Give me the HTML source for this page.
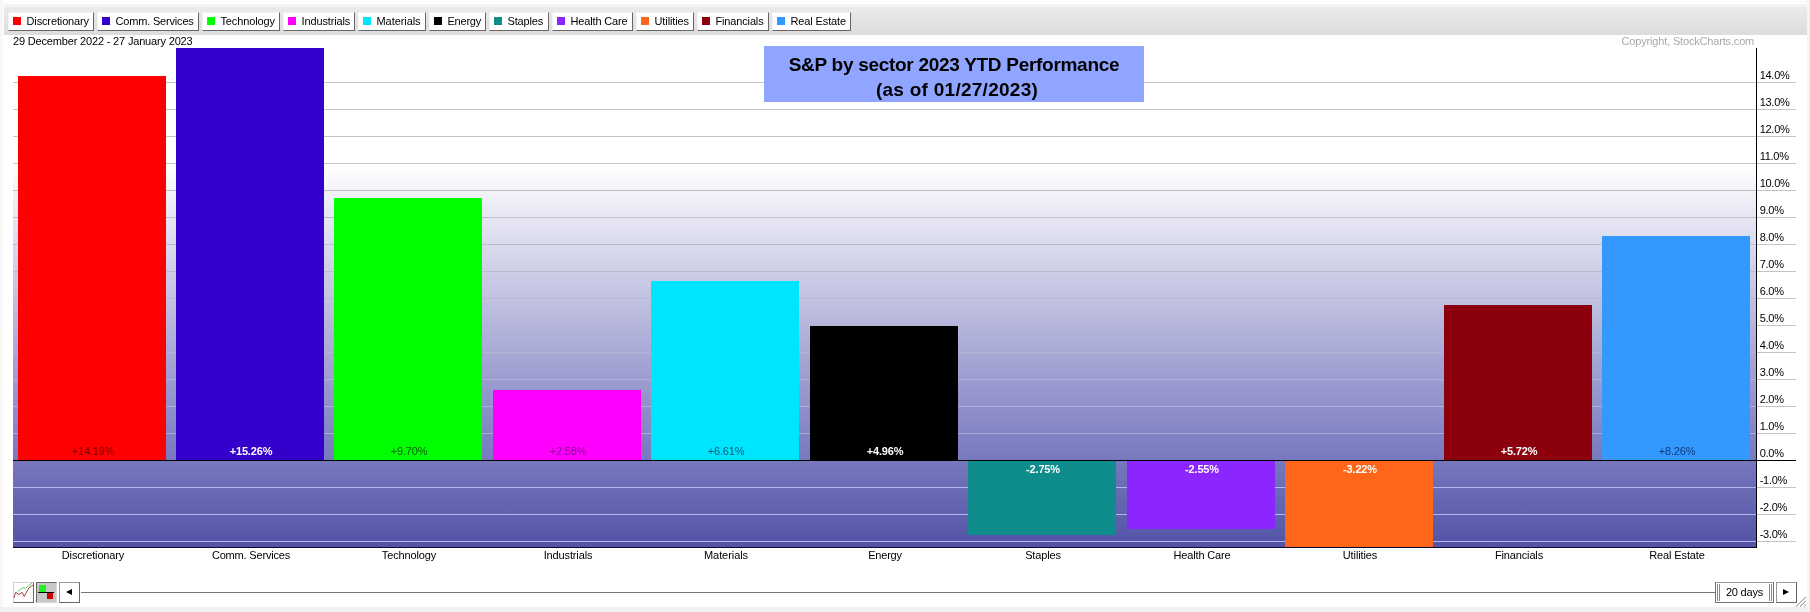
<!DOCTYPE html>
<html><head><meta charset="utf-8"><title>S&amp;P sector performance</title>
<style>
html,body{margin:0;padding:0;}
body{width:1810px;height:612px;position:relative;overflow:hidden;background:#fdfdfd;font-family:"Liberation Sans",sans-serif;font-size:11px;color:#000;letter-spacing:-0.17px;}
div,span{position:absolute;box-sizing:border-box;}
.tb{left:4px;top:4px;width:1803px;height:31px;background:linear-gradient(#f3f3f3 0px,#f3f3f3 3px,#ebebeb 3px,#dcdcdc 31px);}
.pane{left:3px;top:35px;width:1804px;height:572px;background:#fff;}
.btn{top:12px;height:19px;background:#fff;border-right:1px solid #666;border-bottom:1px solid #666;border-left:1px solid #f4f4f4;border-top:1px solid #f4f4f4;white-space:nowrap;}
.btn i{position:absolute;left:4px;top:4px;width:8px;height:8px;}
.btn b{position:absolute;left:17.5px;top:2px;font-weight:normal;line-height:13px;}
.plot{left:13px;top:48px;width:1744px;height:499px;background:linear-gradient(#ffffff 0px,#ffffff 116px,#7778be 412px,#5253a6 499px);}
.g{left:13px;width:1784px;height:1px;background:rgba(170,170,170,0.75);}
.gn{left:13px;width:1744px;height:1px;background:rgba(235,235,250,0.8);}
.gt{left:1757px;width:39px;height:1px;background:#c4c4c4;}
.bar{width:148px;}
.yl{left:1759.7px;width:40px;line-height:12px;letter-spacing:-0.28px;}
.xl{top:549px;width:158px;text-align:center;line-height:13px;}
.vl{width:158px;text-align:center;line-height:12px;font-size:11px;}
</style></head><body>
<div id="w" style="left:0;top:0;width:1810px;height:612px;will-change:transform">
<div style="left:0;top:0;width:3px;height:612px;background:#f7f7f7"></div>
<div style="left:0;top:607px;width:1810px;height:5px;background:#f1f1f1"></div>
<div style="left:1807px;top:0;width:3px;height:612px;background:#f4f4f4"></div>
<div class="pane"></div>
<div class="tb"></div>

<div class="btn" style="left:8px;width:86px"><i style="background:#ff0000"></i><b style="letter-spacing:-0.130px">Discretionary</b></div>
<div class="btn" style="left:97px;width:102px"><i style="background:#3300cc"></i><b style="letter-spacing:-0.178px">Comm. Services</b></div>
<div class="btn" style="left:202px;width:78px"><i style="background:#00ff00"></i><b style="letter-spacing:-0.136px">Technology</b></div>
<div class="btn" style="left:283px;width:72px"><i style="background:#ff00ff"></i><b style="letter-spacing:-0.131px">Industrials</b></div>
<div class="btn" style="left:358px;width:68px"><i style="background:#00e5ff"></i><b style="letter-spacing:-0.069px">Materials</b></div>
<div class="btn" style="left:429px;width:57px"><i style="background:#000000"></i><b style="letter-spacing:-0.227px">Energy</b></div>
<div class="btn" style="left:489px;width:60px"><i style="background:#0f8c8c"></i><b style="letter-spacing:-0.143px">Staples</b></div>
<div class="btn" style="left:552px;width:81px"><i style="background:#8c26ff"></i><b style="letter-spacing:-0.155px">Health Care</b></div>
<div class="btn" style="left:636px;width:58px"><i style="background:#ff6619"></i><b style="letter-spacing:-0.106px">Utilities</b></div>
<div class="btn" style="left:697px;width:72px"><i style="background:#8c000d"></i><b style="letter-spacing:-0.153px">Financials</b></div>
<div class="btn" style="left:772px;width:79px"><i style="background:#3399ff"></i><b style="letter-spacing:-0.125px">Real Estate</b></div>
<div style="left:13px;top:35px;line-height:13px;white-space:nowrap">29 December 2022 - 27 January 2023</div>
<div style="left:1621.6px;top:35px;line-height:13px;white-space:nowrap;color:#a9a9a9">Copyright, StockCharts.com</div>
<div class="plot"></div>
<div class="gn" style="top:82px;background:rgb(196,196,196)"></div><div class="gt" style="top:82px"></div>
<div class="gn" style="top:109px;background:rgb(196,196,196)"></div><div class="gt" style="top:109px"></div>
<div class="gn" style="top:136px;background:rgb(196,196,196)"></div><div class="gt" style="top:136px"></div>
<div class="gn" style="top:163px;background:rgb(196,196,196)"></div><div class="gt" style="top:163px"></div>
<div class="gn" style="top:190px;background:rgb(194,194,198)"></div><div class="gt" style="top:190px"></div>
<div class="gn" style="top:217px;background:rgb(191,191,200)"></div><div class="gt" style="top:217px"></div>
<div class="gn" style="top:244px;background:rgb(189,189,202)"></div><div class="gt" style="top:244px"></div>
<div class="gn" style="top:271px;background:rgb(186,186,204)"></div><div class="gt" style="top:271px"></div>
<div class="gn" style="top:298px;background:rgb(184,184,206)"></div><div class="gt" style="top:298px"></div>
<div class="gn" style="top:325px;background:rgb(182,182,208)"></div><div class="gt" style="top:325px"></div>
<div class="gn" style="top:352px;background:rgb(179,179,210)"></div><div class="gt" style="top:352px"></div>
<div class="gn" style="top:379px;background:rgb(177,177,212)"></div><div class="gt" style="top:379px"></div>
<div class="gn" style="top:406px;background:rgb(174,174,214)"></div><div class="gt" style="top:406px"></div>
<div class="gn" style="top:433px;background:rgb(172,172,216)"></div><div class="gt" style="top:433px"></div>
<div class="gn" style="top:487px;background:#b6b8f0"></div><div class="gt" style="top:487px"></div>
<div class="gn" style="top:514px;background:#b6b8f0"></div><div class="gt" style="top:514px"></div>
<div class="gn" style="top:541px;background:#b6b8f0"></div><div class="gt" style="top:541px"></div>
<div class="bar" style="left:18px;top:76px;height:384px;background:#ff0000"></div>
<div class="vl" style="left:14px;top:445px;color:#780000;font-weight:normal">+14.19%</div>
<div class="xl" style="left:14px;letter-spacing:-0.130px">Discretionary</div>
<div class="bar" style="left:176px;top:48px;height:412px;background:#3300cc"></div>
<div class="vl" style="left:172px;top:445px;color:#ffffff;font-weight:bold">+15.26%</div>
<div class="xl" style="left:172px;letter-spacing:-0.178px">Comm. Services</div>
<div class="bar" style="left:334px;top:198px;height:262px;background:#00ff00"></div>
<div class="vl" style="left:330px;top:445px;color:#0a5a0a;font-weight:normal">+9.70%</div>
<div class="xl" style="left:330px;letter-spacing:-0.136px">Technology</div>
<div class="bar" style="left:493px;top:390px;height:70px;background:#ff00ff"></div>
<div class="vl" style="left:489px;top:445px;color:#8a0a8a;font-weight:normal">+2.58%</div>
<div class="xl" style="left:489px;letter-spacing:-0.131px">Industrials</div>
<div class="bar" style="left:651px;top:281px;height:179px;background:#00e5ff"></div>
<div class="vl" style="left:647px;top:445px;color:#0a5a6a;font-weight:normal">+6.61%</div>
<div class="xl" style="left:647px;letter-spacing:-0.069px">Materials</div>
<div class="bar" style="left:810px;top:326px;height:134px;background:#000000"></div>
<div class="vl" style="left:806px;top:445px;color:#ffffff;font-weight:bold">+4.96%</div>
<div class="xl" style="left:806px;letter-spacing:-0.227px">Energy</div>
<div class="bar" style="left:968px;top:461px;height:74px;background:#0f8c8c"></div>
<div class="vl" style="left:964px;top:463px;color:#ffffff;font-weight:bold">-2.75%</div>
<div class="xl" style="left:964px;letter-spacing:-0.143px">Staples</div>
<div class="bar" style="left:1127px;top:461px;height:68px;background:#8c26ff"></div>
<div class="vl" style="left:1123px;top:463px;color:#ffffff;font-weight:bold">-2.55%</div>
<div class="xl" style="left:1123px;letter-spacing:-0.155px">Health Care</div>
<div class="bar" style="left:1285px;top:461px;height:86px;background:#ff6619"></div>
<div class="vl" style="left:1281px;top:463px;color:#ffffff;font-weight:bold">-3.22%</div>
<div class="xl" style="left:1281px;letter-spacing:-0.106px">Utilities</div>
<div class="bar" style="left:1444px;top:305px;height:155px;background:#8c000d"></div>
<div class="vl" style="left:1440px;top:445px;color:#ffffff;font-weight:bold">+5.72%</div>
<div class="xl" style="left:1440px;letter-spacing:-0.153px">Financials</div>
<div class="bar" style="left:1602px;top:236px;height:224px;background:#3399ff"></div>
<div class="vl" style="left:1598px;top:445px;color:#0a3a7a;font-weight:normal">+8.26%</div>
<div class="xl" style="left:1598px;letter-spacing:-0.125px">Real Estate</div>
<div style="left:13px;top:460px;width:1783px;height:1px;background:#000"></div>
<div style="left:13px;top:547px;width:1744px;height:1px;background:#0a0a30"></div>
<div style="left:1756px;top:48px;width:1px;height:500px;background:#000"></div>
<div class="yl" style="top:69px">14.0%</div>
<div class="yl" style="top:96px">13.0%</div>
<div class="yl" style="top:123px">12.0%</div>
<div class="yl" style="top:150px">11.0%</div>
<div class="yl" style="top:177px">10.0%</div>
<div class="yl" style="top:204px">9.0%</div>
<div class="yl" style="top:231px">8.0%</div>
<div class="yl" style="top:258px">7.0%</div>
<div class="yl" style="top:285px">6.0%</div>
<div class="yl" style="top:312px">5.0%</div>
<div class="yl" style="top:339px">4.0%</div>
<div class="yl" style="top:366px">3.0%</div>
<div class="yl" style="top:393px">2.0%</div>
<div class="yl" style="top:420px">1.0%</div>
<div class="yl" style="top:447px">0.0%</div>
<div class="yl" style="top:474px">-1.0%</div>
<div class="yl" style="top:501px">-2.0%</div>
<div class="yl" style="top:528px">-3.0%</div>

<div style="left:13px;top:582px;width:21px;height:21px;background:#fff;border:1px solid #666;border-left-color:#d0d0d0;border-top-color:#d0d0d0">
<svg width="19" height="19" viewBox="0 0 19 19" style="position:absolute;left:0;top:0;overflow:visible"><polyline points="0,15 1.7,9.3 5,11.5 8.2,9.3 10.2,13.5 14.8,5 19,2" fill="none" stroke="#9a3030" stroke-width="0.9"/><polyline points="3.6,8.6 8.9,4.7 11.5,5.3 18.5,-0.5" fill="none" stroke="#58d058" stroke-width="1"/></svg></div>
<div style="left:36px;top:582px;width:21px;height:21px;background:#c8c8c8;border:1px solid #d8d8d8;border-left-color:#666;border-top-color:#666">
<span style="left:2px;top:2px;width:6.5px;height:7px;background:#22ee22"></span><span style="left:1px;top:9px;width:16px;height:1px;background:#000"></span><span style="left:10px;top:10px;width:6px;height:6px;background:#cc0000"></span></div>
<div style="left:59px;top:582px;width:21px;height:21px;background:#fff;border:1px solid #666;border-left-color:#999;border-top-color:#999"><span style="left:6px;top:6px;width:0;height:0;border-top:3.5px solid transparent;border-bottom:3.5px solid transparent;border-right:6px solid #000"></span></div>
<div style="left:81px;top:592px;width:1634px;height:1px;background:#777"></div>
<div style="left:1715px;top:582px;width:59px;height:21px;background:#fff;border:1px solid #707070;border-top-color:#999"><span style="left:1px;top:1px;width:1px;height:17px;background:#888"></span><span style="left:3px;top:1px;width:1px;height:17px;background:#888"></span><span style="left:53px;top:1px;width:1px;height:17px;background:#888"></span><span style="left:55px;top:1px;width:1px;height:17px;background:#888"></span><span style="left:0;top:3px;width:57px;text-align:center;line-height:13px;letter-spacing:-0.2px">20 days</span></div>
<div style="left:1776px;top:582px;width:21px;height:21px;background:#fff;border:1px solid #666;border-left-color:#999;border-top-color:#999"><span style="left:6px;top:6px;width:0;height:0;border-top:3.5px solid transparent;border-bottom:3.5px solid transparent;border-left:6px solid #000"></span></div>
<svg width="12" height="12" viewBox="0 0 12 12" style="position:absolute;left:1795px;top:595px"><path d="M1,11.5 L11,1.8 M5,11.5 L11,5.8 M9,11.5 L11,9.5" stroke="#808080" stroke-width="1" fill="none"/></svg>

<div style="left:764px;top:46px;width:380px;height:56px;background:#8fa5ff;text-align:center;font-weight:bold;font-size:19px;line-height:25px;padding-top:6px;color:#000;white-space:nowrap"><span style="position:static;letter-spacing:-0.29px">S&amp;P by sector 2023 YTD Performance</span><br><span style="position:static;letter-spacing:0.27px;margin-left:6px">(as of 01/27/2023)</span></div>
</div></body></html>
